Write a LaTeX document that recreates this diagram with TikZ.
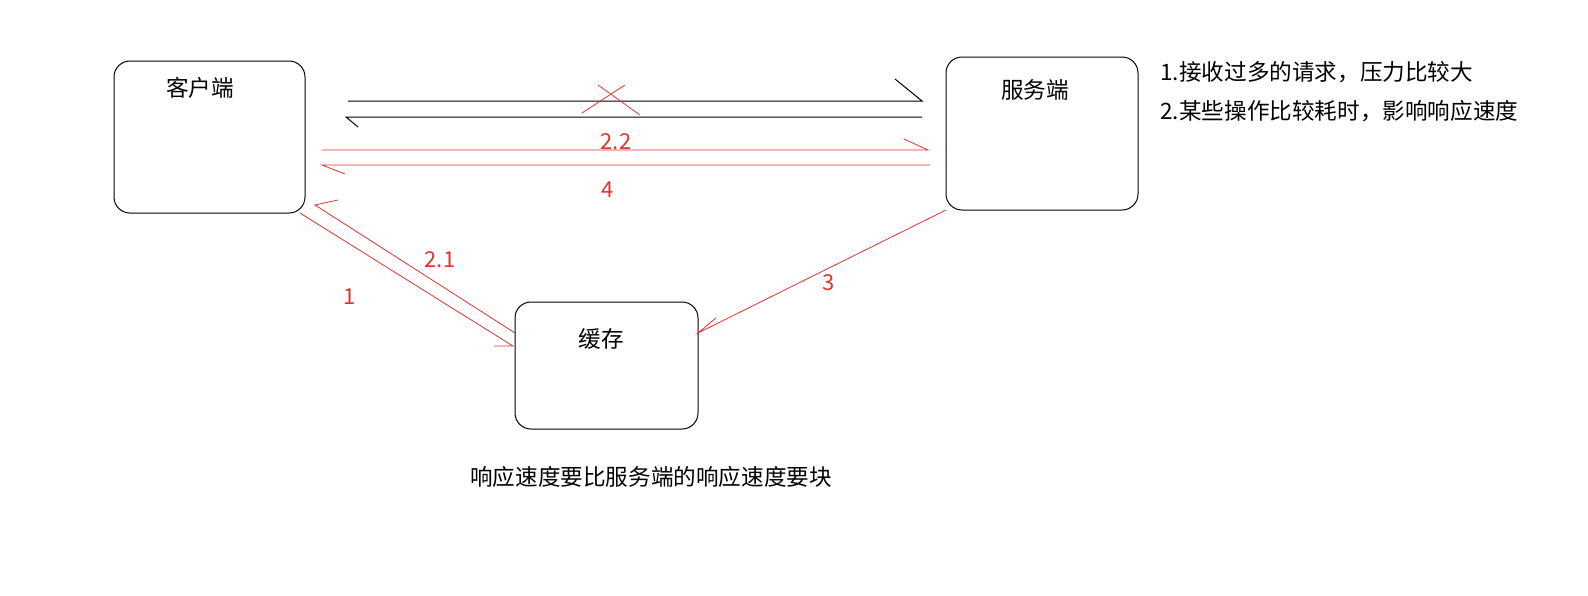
\documentclass[tikz,border=0pt]{standalone}
\usepackage{fontspec}
\setmainfont{Noto Sans CJK SC}
\definecolor{rd}{RGB}{225,50,45}
\begin{document}
\begin{tikzpicture}[x=0.5pt,y=-0.5pt,
  box/.style={draw,rounded corners=8pt,line width=0.5pt},
  lbl/.style={font=\fontsize{11}{13}\selectfont,text=rd},
  txt/.style={font=\fontsize{11.3}{13}\selectfont},
  bl/.style={line width=0.5pt},
  rl/.style={rd,line width=0.4pt}]
\useasboundingbox (0,0) rectangle (1588,595);
\draw[box] (114,61) rectangle (305,213);
\draw[box] (946,57) rectangle (1138,210);
\draw[box] (515,302) rectangle (698,429);
\node[txt] (c) at (200,88) {客户端};
\node[txt] (s) at (1035,90) {服务端};
\node[txt] (h) at (601,339) {缓存};
\node[txt,anchor=west,inner sep=0pt] (n1) at (1160,72) {1.接收过多的请求，压力比较大};
\node[txt,anchor=west,inner sep=0pt] (n2) at (1160,111) {2.某些操作比较耗时，影响响应速度};
\node[txt] (b) at (651,477) {响应速度要比服务端的响应速度要块};
% black
\draw[bl] (348,101) -- (922,101) -- (895,79);
\draw[bl] (358,127) -- (346,117) -- (922,117);
\draw[rl] (598,85) -- (640,115);
\draw[rl] (582,113) -- (625,85);
% red horizontal
\draw[rl] (322,150) -- (928,150) -- (904,139);
\draw[rl] (345,174) -- (322,165) -- (930,165);
% diagonals
\draw[rl] (300,213) -- (513,346) -- (494,346);
\draw[rl] (515,333) -- (315,205) -- (338,200);
\draw[rl] (946,210) -- (698,333) -- (716,318);
\node[lbl] at (616,142) {2.2};
\node[lbl] at (608,190) {4};
\node[lbl] at (440,260) {2.1};
\node[lbl] at (350,297) {1};
\node[lbl] at (829,283) {3};
\end{tikzpicture}
\end{document}
